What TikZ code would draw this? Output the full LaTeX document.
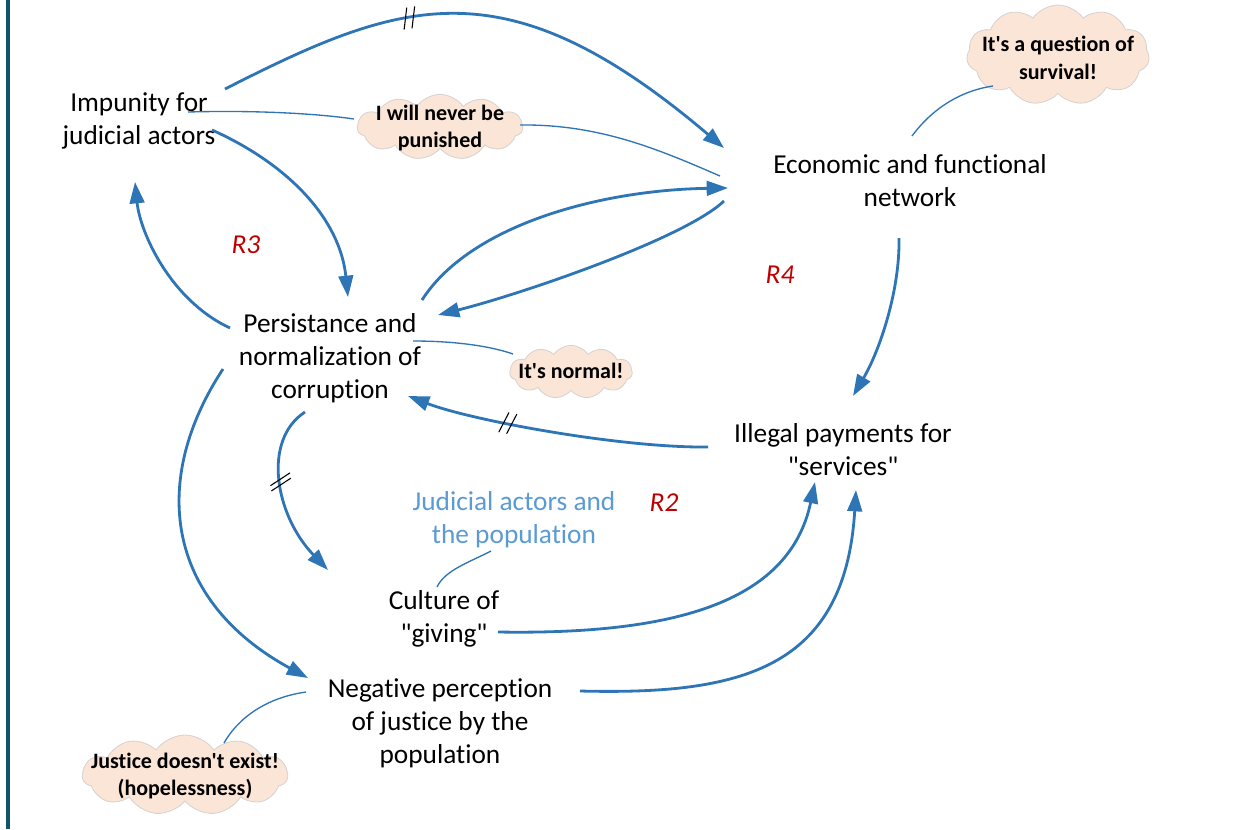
\documentclass[tikz,border=0pt]{standalone}
\usepackage{fontspec}
\setmainfont{Carlito}[Ligatures={TeXOff,NoCommon}]
\usetikzlibrary{arrows.meta,shapes.symbols,decorations.markings,calc}
\definecolor{linkblue}{HTML}{2E75B6}
\definecolor{groupblue}{HTML}{5B9BD5}
\definecolor{loopred}{HTML}{C00000}
\definecolor{cloudfill}{HTML}{FBE5D6}
\definecolor{cloudline}{HTML}{D6D2D0}
\definecolor{frameteal}{HTML}{0F5468}
\begin{document}
\begin{tikzpicture}[x=0.75pt,y=-0.75pt,
  var/.style={align=center, inner sep=0pt, font=\fontsize{20.5}{24.75}\selectfont},
  looplabel/.style={inner sep=0pt, text=loopred, font=\fontsize{20.5}{24.75}\selectfont\itshape},
  grouplabel/.style={align=center, inner sep=0pt, text=groupblue, font=\fontsize{20.5}{24.75}\selectfont},
  thought/.style={cloud, cloud puffs=11, cloud puff arc=110, fill=cloudfill, draw=cloudline, line width=0.6pt, inner sep=0pt},
  thoughttext/.style={align=center, inner sep=0pt, font=\fontsize{16.5}{20.5}\selectfont\bfseries},
  link/.style={draw=linkblue, line width=2.1pt, -{Triangle[length=16pt,width=11pt]}},
  note/.style={draw=linkblue, line width=1pt},
  delayh/.style={postaction={decorate, decoration={markings, mark=at position #1 with {
      \draw[black, line width=0.8pt, arrows=-] (-5pt,-8pt) -- (-0.5pt,8pt) (1pt,-8pt) -- (5.5pt,8pt);}}}},
  delayv/.style={postaction={decorate, decoration={markings, mark=at position #1 with {
      \draw[black, line width=0.8pt, arrows=-] (1pt,-8pt) -- (-6pt,8pt) (5pt,-8pt) -- (-2pt,8pt);}}}}
]
\useasboundingbox (0,0) rectangle (1249,829);
\fill[white] (0,0) rectangle (1249,829);
\fill[frameteal] (6,0) rectangle (10,829);

% variables
\node[var] (imp) at (139,121) {Impunity for\\judicial actors};
\node[var] (eco) at (910,181) {Economic and functional\\network};
\node[var] (per) at (330,358) {Persistance and\\normalization of\\corruption};
\node[var] (ill) at (843,450) {Illegal payments for\\"services"};
\node[var] (cul) at (444,619) {Culture of\\"giving"};
\node[var] (neg) at (440,723) {Negative perception\\of justice by the\\population};
\node[grouplabel] (grp) at (514,520) {Judicial actors and\\the population};

% loop names
\node[looplabel] (r3) at (246,245) {R3};
\node[looplabel] (r4) at (780,275) {R4};
\node[looplabel] (r2) at (664,503) {R2};

% thought clouds
\node[thought, minimum width=124pt, minimum height=49pt] (c1) at (440,127) {};
\node[thoughttext] (c1t) at (440,128) {I will never be\\punished};
\node[thought, minimum width=137pt, minimum height=75pt] (c2) at (1058,55) {};
\node[thoughttext] (c2t) at (1058,58) {It's a question of\\survival!};
\node[thought, minimum width=92pt, minimum height=40pt] (c3) at (571,372) {};
\node[thoughttext] (c3t) at (571,371) {It's normal!};
\node[thought, minimum width=154pt, minimum height=60pt] (c4) at (185,775) {};
\node[thoughttext] (c4t) at (185,776) {Justice doesn't exist!\\(hopelessness)};

% causal links (anchored on the variables)
\draw[link, delayh=0.36] ($(imp)+(86,-32)$) .. controls (402,-1) and (505,-38) .. ($(eco)+(-186,-33)$);
\draw[link] ($(imp)+(73,9)$) .. controls (290,165) and (340,220) .. ($(per)+(18,-61)$);
\draw[link] ($(per)+(-100,-30)$) .. controls (170,300) and (140,232) .. ($(imp)+(-4,61)$);
\draw[link] ($(per)+(92,-58)$) .. controls (470,225) and (600,190) .. ($(eco)+(-182,7)$);
\draw[link] ($(eco)+(-186,20)$) .. controls (684,239) and (518,295) .. ($(per)+(108,-43)$);
\draw[link] ($(eco)+(-11,57)$) .. controls (900,290) and (880,350) .. ($(ill)+(10,-54)$);
\draw[link, delayh=0.66] ($(ill)+(-135,-3)$) .. controls (620,448) and (470,420) .. ($(per)+(78,38)$);
\draw[link, delayv=0.44] ($(per)+(-25,54)$) .. controls (262,440) and (275,515) .. ($(cul)+(-116,-49)$);
\draw[link] ($(per)+(-107,11)$) .. controls (150,480) and (165,600) .. ($(neg)+(-132,-45)$);
\draw[link] ($(cul)+(54,13)$) .. controls (680,635) and (790,600) .. ($(ill)+(-28,32)$);
\draw[link] ($(neg)+(140,-32)$) .. controls (740,695) and (845,670) .. ($(ill)+(13,40)$);

% thought connectors
\draw[note] ($(imp)+(49,-9)$) .. controls (260,110) and (320,114) .. ($(c1)+(-86,-8)$);
\draw[note] ($(c1)+(80,-2)$) .. controls (600,124) and (660,150) .. ($(eco)+(-190,-5)$);
\draw[note] ($(per)+(83,-17)$) .. controls (455,341) and (490,346) .. ($(c3)+(-58,-18)$);
\draw[note] ($(eco)+(2,-45)$) .. controls (935,105) and (965,90) .. ($(c2)+(-65,31)$);
\draw[note] ($(neg)+(-134,-31)$) .. controls (270,697) and (240,715) .. ($(c4)+(39,-32)$);
\draw[note] ($(cul)+(-7,-32)$) .. controls (445,570) and (470,562) .. ($(grp)+(-23,31)$);
\end{tikzpicture}
\end{document}
